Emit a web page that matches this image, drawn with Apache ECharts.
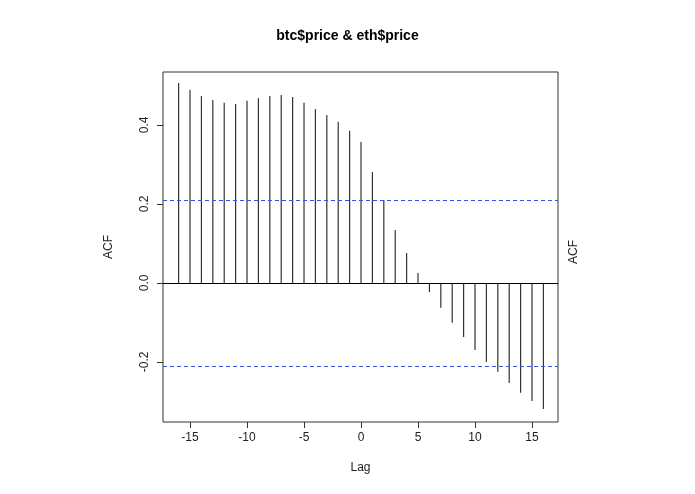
<!DOCTYPE html>
<html>
<head>
<meta charset="utf-8">
<script src="https://cdn.jsdelivr.net/npm/echarts@6/dist/echarts.min.js"></script>
<style>html,body{margin:0;background:#fff}#main{width:695px;height:494px}</style>
</head>
<body>
<div id="main"></div>
<script>
// lags and cross-correlation values
var lags = [-16,-15,-14,-13,-12,-11,-10,-9,-8,-7,-6,-5,-4,-3,-2,-1,0,1,2,3,4,5,6,7,8,9,10,11,12,13,14,15,16];
var acf = [0.506,0.489,0.473,0.463,0.456,0.453,0.461,0.468,0.473,0.476,0.471,0.456,0.440,0.425,0.408,0.385,0.357,
           0.281,0.210,0.134,0.076,0.025,-0.023,-0.063,-0.101,-0.137,-0.170,-0.200,-0.225,-0.253,-0.278,-0.299,-0.319];
var ciLevel = 0.2127;
var xTicks = [-15,-10,-5,0,5,10,15];
var yTicks = [-0.2,0,0.2,0.4];

var data = [];
for (var i = 0; i < lags.length; i++) {
    data.push([lags[i], acf[i]]);
}
var font = 'Liberation Sans';
var myChart = echarts.init(document.getElementById('main'));
myChart.setOption({
    animation: false,
    backgroundColor: '#fff',
    title: {
        text: 'btc$price & eth$price', left: 'center', top: 24,
        textStyle: {fontFamily: font, fontSize: 14, fontWeight: 'bold', color: '#000'}
    },
    grid: {left: 163, right: 137, top: 72, bottom: 72, show: true, borderColor: '#333', borderWidth: 1},
    xAxis: {
        type: 'value', min: -17.37, max: 17.28,
        name: 'Lag', nameLocation: 'middle', nameGap: 40,
        nameTextStyle: {fontFamily: font, fontSize: 12, color: '#222'},
        axisLine: {show: false, onZero: false}, splitLine: {show: false},
        axisTick: {show: true, length: 6, customValues: xTicks, lineStyle: {color: '#333'}},
        axisLabel: {customValues: xTicks, fontFamily: font, fontSize: 12, color: '#222', margin: 10}
    },
    yAxis: {
        type: 'value', min: -0.352, max: 0.534,
        name: 'ACF', nameLocation: 'middle', nameGap: 48, nameRotate: 90,
        nameTextStyle: {fontFamily: font, fontSize: 12, color: '#222'},
        axisLine: {show: false, onZero: false}, splitLine: {show: false},
        axisTick: {show: true, length: 6, customValues: yTicks, lineStyle: {color: '#333'}},
        axisLabel: {customValues: yTicks, rotate: 90, fontFamily: font, fontSize: 12, color: '#222', margin: 12,
            formatter: function (v) { return v.toFixed(1); }}
    },
    graphic: [{
        type: 'text', left: 568, top: 240, rotation: Math.PI / 2,
        style: {text: 'ACF', font: '12px ' + font, fill: '#222'}
    }],
    series: [{
        type: 'bar', data: data, barWidth: 1.2,
        itemStyle: {color: '#333'},
        markLine: {
            silent: true, symbol: 'none', label: {show: false},
            data: [
                {yAxis: 0, lineStyle: {color: '#000', type: 'solid', width: 1}},
                {yAxis: ciLevel, lineStyle: {color: '#3a4ee0', type: [4, 3], width: 1}},
                {yAxis: -ciLevel, lineStyle: {color: '#3a4ee0', type: [4, 3], width: 1}}
            ]
        }
    }]
});
</script>
</body>
</html>
